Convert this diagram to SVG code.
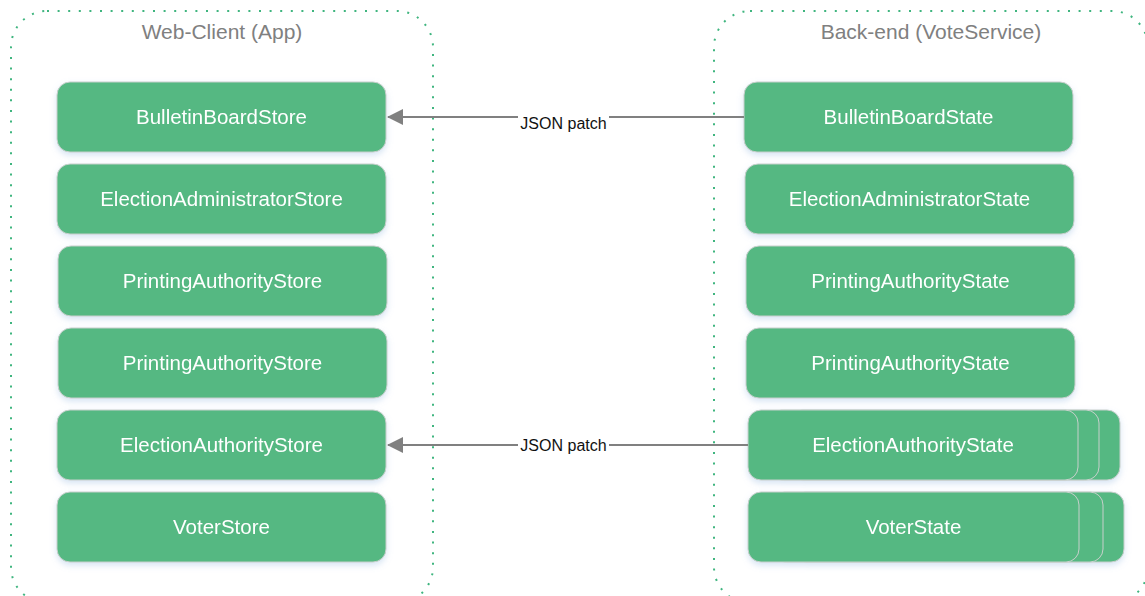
<svg xmlns="http://www.w3.org/2000/svg" width="1145" height="596" viewBox="0 0 1145 596">
<defs>
<filter id="sh" x="-10%" y="-20%" width="120%" height="150%">
<feDropShadow dx="0" dy="3" stdDeviation="3" flood-color="#8fb3e0" flood-opacity="0.35"/>
</filter>
<marker id="ah" viewBox="0 0 16 16" refX="15" refY="8" markerWidth="16" markerHeight="16" markerUnits="userSpaceOnUse" orient="auto">
<path d="M0,0 L16,8 L0,16 Z" fill="#808080"/>
</marker>
</defs>
<style>
.cont{fill:none;stroke:#3fb57f;stroke-width:2;stroke-dasharray:2 8.6}
.title{font-family:"Liberation Sans",Arial,sans-serif;font-size:21px;fill:#808080;text-anchor:middle}
.node rect{fill:#55b882;stroke:#c8d0cc;stroke-width:1}
.node text{font-family:"Liberation Sans",Arial,sans-serif;font-size:20.5px;fill:#ffffff;text-anchor:middle}
.conn line{stroke:#808080;stroke-width:2}
.lbl{font-family:"Liberation Sans",Arial,sans-serif;font-size:16px;fill:#111;text-anchor:middle}
</style>
<rect width="1145" height="596" fill="#ffffff"/>
<g id="web-client">
<rect class="cont" x="11" y="11" width="422" height="592" rx="36"/>
<text class="title" x="222" y="39">Web-Client (App)</text>
</g>
<g id="back-end">
<rect class="cont" x="714" y="11" width="434" height="592" rx="36"/>
<text class="title" x="931" y="39">Back-end (VoteService)</text>
</g>
<g id="n-bbstore" class="node" filter="url(#sh)"><rect x="57" y="82" width="329" height="70" rx="13"/><text x="221.5" y="124">BulletinBoardStore</text></g>
<g id="n-eadmstore" class="node" filter="url(#sh)"><rect x="57" y="164" width="329" height="70" rx="13"/><text x="221.5" y="206">ElectionAdministratorStore</text></g>
<g id="n-pastore1" class="node" filter="url(#sh)"><rect x="58" y="246" width="329" height="70" rx="13"/><text x="222.5" y="288">PrintingAuthorityStore</text></g>
<g id="n-pastore2" class="node" filter="url(#sh)"><rect x="58" y="328" width="329" height="70" rx="13"/><text x="222.5" y="370">PrintingAuthorityStore</text></g>
<g id="n-eastore" class="node" filter="url(#sh)"><rect x="57" y="410" width="329" height="70" rx="13"/><text x="221.5" y="452">ElectionAuthorityStore</text></g>
<g id="n-voterstore" class="node" filter="url(#sh)"><rect x="57" y="492" width="329" height="70" rx="13"/><text x="221.5" y="534">VoterStore</text></g>
<g id="n-bbstate" class="node" filter="url(#sh)"><rect x="744" y="82" width="329" height="70" rx="13"/><text x="908.5" y="124">BulletinBoardState</text></g>
<g id="n-eadmstate" class="node" filter="url(#sh)"><rect x="745" y="164" width="329" height="70" rx="13"/><text x="909.5" y="206">ElectionAdministratorState</text></g>
<g id="n-pastate1" class="node" filter="url(#sh)"><rect x="746" y="246" width="329" height="70" rx="13"/><text x="910.5" y="288">PrintingAuthorityState</text></g>
<g id="n-pastate2" class="node" filter="url(#sh)"><rect x="746" y="328" width="329" height="70" rx="13"/><text x="910.5" y="370">PrintingAuthorityState</text></g>
<g id="n-eastate" class="node" filter="url(#sh)">
<rect x="790" y="410" width="330" height="70" rx="13"/>
<rect x="769" y="410" width="330" height="70" rx="13"/>
<rect x="748" y="410" width="330" height="70" rx="13"/>
<text x="913" y="452">ElectionAuthorityState</text></g>
<g id="n-voterstate" class="node" filter="url(#sh)">
<rect x="793" y="492" width="331" height="70" rx="13"/>
<rect x="772" y="492" width="331" height="70" rx="13"/>
<rect x="748" y="492" width="331" height="70" rx="13"/>
<text x="913.5" y="534">VoterState</text></g>
<g id="connectors" class="conn">
<line x1="744" y1="117" x2="388" y2="117" marker-end="url(#ah)"/>
<rect x="518" y="110" width="91" height="16" fill="#ffffff"/>
<text class="lbl" x="563.5" y="129">JSON patch</text>
<line x1="748" y1="445" x2="388" y2="445" marker-end="url(#ah)"/>
<rect x="518" y="438" width="91" height="16" fill="#ffffff"/>
<text class="lbl" x="563.5" y="451">JSON patch</text>
</g>
</svg>
